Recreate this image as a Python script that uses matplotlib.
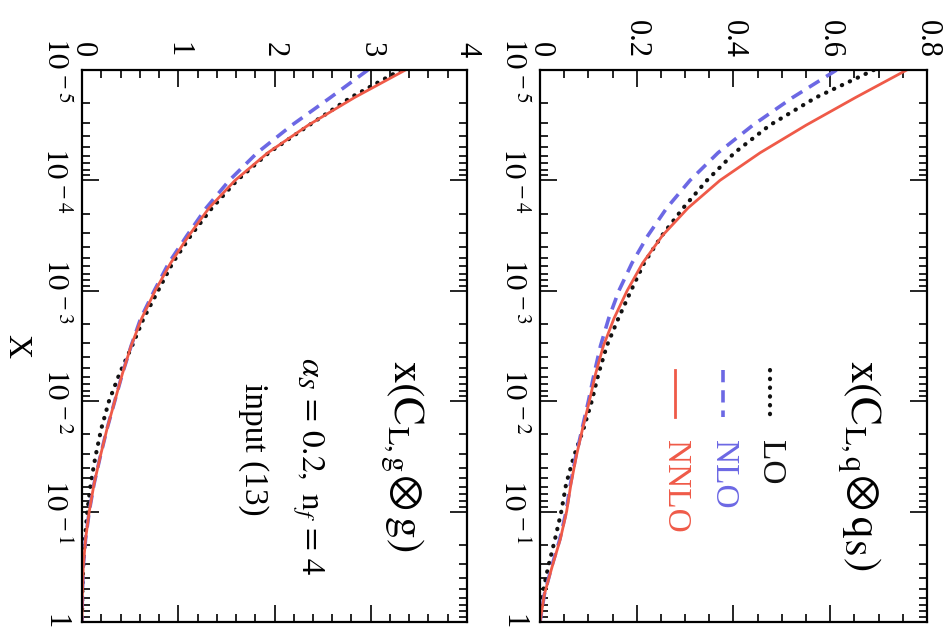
"""Longitudinal coefficient convolutions x(C_L x q_S) and x(C_L,g x g), LO/NLO/NNLO.

The reference is a scan turned 90 degrees clockwise, so the log-x axis runs
down the page and the values run left to right; all text is rotated -90.
"""

import matplotlib

matplotlib.use("Agg")
import matplotlib.pyplot as plt
from matplotlib.lines import Line2D
from matplotlib.ticker import FixedLocator, LogLocator, MultipleLocator, NullFormatter

plt.rcParams["font.family"] = ["Liberation Serif", "DejaVu Serif"]
plt.rcParams["mathtext.fontset"] = "stix"

x_grid = [
    1e-5, 1.778e-5, 3.162e-5, 5.623e-5,
    1e-4, 1.778e-4, 3.162e-4, 5.623e-4,
    1e-3, 1.778e-3, 3.162e-3, 5.623e-3,
    1e-2, 1.778e-2, 3.162e-2, 5.623e-2,
    1e-1, 1.778e-1, 3.162e-1, 5.623e-1,
    1.0,
]

gluon_lo = [3.31, 2.79, 2.36, 1.94, 1.61, 1.35, 1.13, 0.94, 0.79, 0.64, 0.52,
            0.39, 0.28, 0.20, 0.14, 0.09, 0.055, 0.03, 0.012, 0.003, 0.0]
gluon_nlo = [2.97, 2.58, 2.18, 1.82, 1.53, 1.29, 1.09, 0.90, 0.75, 0.61, 0.51,
             0.42, 0.34, 0.26, 0.19, 0.125, 0.075, 0.037, 0.013, 0.004, 0.0]
gluon_nnlo = [3.36, 2.83, 2.35, 1.93, 1.59, 1.32, 1.11, 0.92, 0.76, 0.62, 0.51,
              0.42, 0.34, 0.26, 0.19, 0.125, 0.075, 0.037, 0.013, 0.004, 0.0]

quark_lo = [0.690, 0.570, 0.475, 0.402, 0.345, 0.296, 0.252, 0.215, 0.188, 0.162, 0.138,
            0.121, 0.107, 0.090, 0.070, 0.054, 0.044, 0.031, 0.017, 0.005, 0.0]
quark_nlo = [0.613, 0.522, 0.440, 0.368, 0.310, 0.262, 0.223, 0.190, 0.163, 0.142, 0.125,
             0.112, 0.100, 0.087, 0.074, 0.063, 0.054, 0.041, 0.024, 0.009, 0.0]
quark_nnlo = [0.758, 0.652, 0.550, 0.455, 0.372, 0.306, 0.253, 0.212, 0.180, 0.153, 0.131,
              0.115, 0.102, 0.088, 0.075, 0.064, 0.055, 0.042, 0.025, 0.009, 0.0]

x_ticks = [1e-5, 1e-4, 1e-3, 1e-2, 1e-1, 1.0]
x_ticklabels = [r"$10^{\,-5}$", r"$10^{\,-4}$", r"$10^{\,-3}$",
                r"$10^{\,-2}$", r"$10^{\,-1}$", "1"]

gluon_ticks = [0, 1, 2, 3, 4]
gluon_ticklabels = ["0", "1", "2", "3", "4"]
quark_ticks = [0, 0.2, 0.4, 0.6, 0.8]
quark_ticklabels = ["0", "0.2", "0.4", "0.6", "0.8"]

order_labels = ["LO", "NLO", "NNLO"]

RED = "#ef5a48"
BLUE = "#6c68e4"
BLACK = "#111111"

STYLES = {
    "LO": dict(color=BLACK, linestyle=(0, (0.1, 2.0)), linewidth=3.0,
               dash_capstyle="round"),
    "NLO": dict(color=BLUE, linestyle=(0, (3.4, 2.2)), linewidth=2.6),
    "NNLO": dict(color=RED, linestyle="-", linewidth=2.0),
}


def _style_axes(ax, vmax, vticks, vlabels, vminor):
    ax.set_yscale("log")
    ax.set_ylim(1.0, 1e-5)
    ax.set_xlim(0, vmax)

    ax.set_yticks(x_ticks, labels=x_ticklabels)
    ax.yaxis.set_minor_locator(LogLocator(base=10, subs=range(2, 10), numticks=20))
    ax.yaxis.set_minor_formatter(NullFormatter())

    ax.set_xticks(vticks, labels=vlabels)
    ax.xaxis.set_minor_locator(MultipleLocator(vminor))

    ax.tick_params(axis="both", which="both", direction="in",
                   top=True, bottom=True, left=True, right=True,
                   labeltop=True, labelbottom=False, width=1.2)
    ax.tick_params(axis="both", which="major", length=12, labelsize=22,
                   labelrotation=-90, pad=9)
    ax.tick_params(axis="both", which="minor", length=5.5)
    for lab in ax.get_yticklabels():
        lab.set_va("center")
    for spine in ax.spines.values():
        spine.set_linewidth(1.6)


fig = plt.figure(figsize=(9.45, 6.3), dpi=100)
ax_g = fig.add_axes([82 / 945, 8 / 630, 385 / 945, 552 / 630])
ax_q = fig.add_axes([540 / 945, 8 / 630, 387 / 945, 552 / 630])

for ax, series in (
    (ax_g, (gluon_lo, gluon_nlo, gluon_nnlo)),
    (ax_q, (quark_lo, quark_nlo, quark_nnlo)),
):
    for name, values in zip(order_labels, series):
        ax.plot(values, x_grid, **STYLES[name])

_style_axes(ax_g, 4, gluon_ticks, gluon_ticklabels, 0.2)
_style_axes(ax_q, 0.8, quark_ticks, quark_ticklabels, 0.05)

# panel captions
rot = dict(rotation=-90, rotation_mode="anchor")
ax_q.text(0.801, 0.475, r"$\mathrm{x(C_{L,q}\!\otimes q_{S})}$", fontsize=31,
          ha="left", va="baseline", transform=ax_q.transAxes, **rot)
ax_g.text(0.808, 0.475, r"$\mathrm{x(C_{L,g}\!\otimes g)}$", fontsize=31,
          ha="left", va="baseline", transform=ax_g.transAxes, **rot)
ax_g.text(0.571, 0.480, r"$\alpha_{S}\,=\,0.2,\ \mathrm{n}_{f}\,=\,4$", fontsize=24,
          ha="left", va="baseline", transform=ax_g.transAxes, **rot)
ax_g.text(0.423, 0.433, "input (13)", fontsize=24,
          ha="left", va="baseline", transform=ax_g.transAxes, **rot)

# hand-made legend, turned like the rest of the page
legend_x = {"LO": 0.594, "NLO": 0.473, "NNLO": 0.349}
for name in order_labels:
    xf = legend_x[name]
    ax_q.add_line(Line2D([xf, xf], [0.4565, 0.371], transform=ax_q.transAxes,
                         **STYLES[name]))
    ax_q.text(xf, 0.330, name, fontsize=24, color=STYLES[name]["color"],
              ha="left", va="center", transform=ax_q.transAxes, **rot)

fig.text(16 / 945, 1 - 346 / 630, "X", fontsize=24, rotation=-90,
         ha="center", va="center")

fig.savefig("out.png", dpi=100)
